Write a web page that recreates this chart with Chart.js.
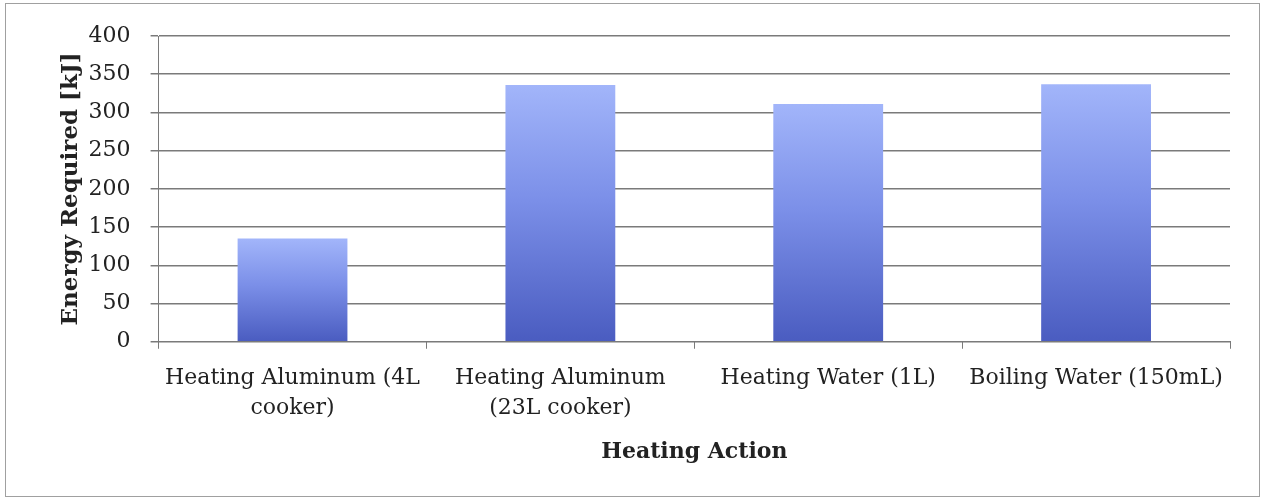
<!DOCTYPE html>
<html>
<head>
<meta charset="utf-8">
<script src="https://cdn.jsdelivr.net/npm/chart.js@4"></script>
<style>
  html, body { margin: 0; padding: 0; background: #fff; }
  #frame {
    position: absolute; left: 5px; top: 3px;
    width: 1253px; height: 492px;
    border: 1px solid #a0a0a0;
  }
  #wrap { position: absolute; left: 0; top: 0; width: 1265px; height: 500px; }
</style>
</head>
<body>
<div id="frame"></div>
<div id="wrap"><canvas id="chart"></canvas></div>
<script>
// data
const categories = [
    ['Heating Aluminum (4L', 'cooker)'],
    ['Heating Aluminum', '(23L cooker)'],
    'Heating Water (1L)',
    'Boiling Water (150mL)'
];
const energy = [135, 336, 311, 337];
const yTicks = [0, 50, 100, 150, 200, 250, 300, 350, 400];

const font = '"DejaVu Serif", "Liberation Serif", serif';

function barFill(ctx) {
    const chart = ctx.chart;
    const { chartArea, scales } = chart;
    if (!chartArea || ctx.type !== 'data') return '#6f84e0';
    const top = scales.y.getPixelForValue(ctx.raw);
    const bottom = scales.y.getPixelForValue(0);
    const g = chart.ctx.createLinearGradient(0, top, 0, bottom);
    g.addColorStop(0, '#a2b5fa');
    g.addColorStop(0.45, '#7b8fe8');
    g.addColorStop(1, '#4a5cc0');
    return g;
}

new Chart(document.getElementById('chart'), {
    type: 'bar',
    data: {
        labels: categories,
        datasets: [{
            data: energy,
            backgroundColor: barFill,
            borderWidth: 0,
            barPercentage: 0.82,
            categoryPercentage: 0.5
        }]
    },
    options: {
        responsive: true,
        maintainAspectRatio: false,
        animation: false,
        layout: { padding: { left: 57, right: 35, top: 36, bottom: 35 } },
        plugins: {
            legend: { display: false },
            tooltip: { enabled: false }
        },
        scales: {
            x: {
                grid: {
                    offset: true,
                    drawOnChartArea: false,
                    drawTicks: true,
                    tickLength: 7,
                    color: '#7a7a7a'
                },
                border: { color: '#7a7a7a', width: 1 },
                ticks: {
                    color: '#222',
                    font: { family: font, size: 22, lineHeight: 1.36 },
                    padding: 15,
                    maxRotation: 0,
                    autoSkip: false
                },
                title: {
                    display: true,
                    text: 'Heating Action',
                    color: '#222',
                    font: { family: font, size: 22, weight: 'bold' },
                    padding: { top: 0, bottom: 0 }
                }
            },
            y: {
                min: 0,
                max: 400,
                afterBuildTicks: axis => { axis.ticks = yTicks.map(v => ({ value: v })); },
                grid: {
                    color: '#7a7a7a',
                    tickLength: 8,
                    lineWidth: 1.5
                },
                border: { color: '#7a7a7a', width: 1 },
                ticks: {
                    color: '#222',
                    font: { family: font, size: 22 },
                    padding: 20
                },
                title: {
                    display: true,
                    text: 'Energy Required [kJ]',
                    color: '#222',
                    font: { family: font, size: 23, weight: 'bold' },
                    padding: { top: 0, bottom: -16 }
                }
            }
        }
    }
});
</script>
</body>
</html>
